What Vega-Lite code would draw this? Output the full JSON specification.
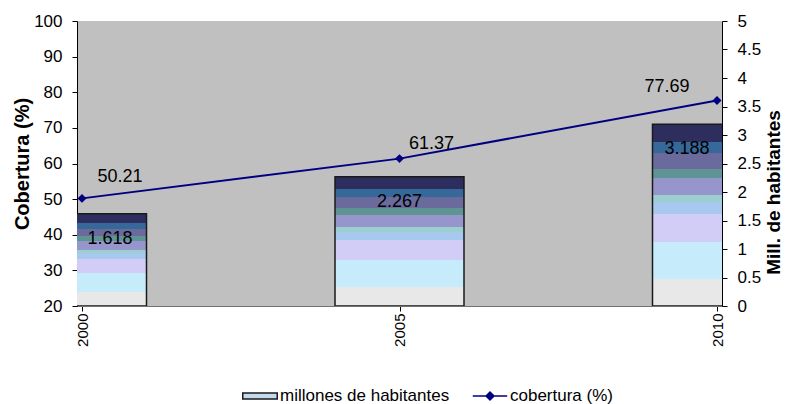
{
  "$schema": "https://vega.github.io/schema/vega-lite/v6.json",
  "width": 645,
  "height": 285,
  "autosize": "none",
  "padding": {"left": 77, "top": 21, "right": 65, "bottom": 98},
  "background": "white",
  "config": {
    "font": "Liberation Sans",
    "view": {"fill": "#c0c0c0", "stroke": null},
    "axis": {"grid": false, "labelColor": "black", "titleColor": "black", "domainColor": "black", "tickColor": "black", "labelFont": "Liberation Sans", "titleFont": "Liberation Sans"}
  },
  "data": {
    "values": [
      {"year": 2000, "millones": 1.618, "cobertura": 50.21},
      {"year": 2005, "millones": 2.267, "cobertura": 61.37},
      {"year": 2010, "millones": 3.188, "cobertura": 77.69}
    ]
  },
  "encoding": {
    "x": {
      "field": "year", "type": "quantitative",
      "scale": {"domain": [2000, 2010], "nice": false, "zero": false},
      "axis": {"values": [2000, 2005, 2010], "format": "d", "title": null, "labelAngle": 270, "labelAlign": "right", "labelBaseline": "middle", "labelFontSize": 15, "labelPadding": 2, "tickSize": 5, "domainColor": "#707070"}
    }
  },
  "layer": [
    {
      "encoding": {
        "y": {
          "field": "millones", "type": "quantitative",
          "scale": {"domain": [0, 5], "nice": false, "zero": true},
          "axis": {"orient": "right", "title": "Mill. de habitantes", "values": [0, 0.5, 1, 1.5, 2, 2.5, 3, 3.5, 4, 4.5, 5], "format": "~g", "labelFontSize": 17, "labelPadding": 10, "tickSize": 5, "titleFontSize": 19, "titleFontWeight": "bold", "titleAngle": 270, "titleBaseline": "top", "titlePadding": 4, "titleY": 171, "titleAlign": "center"}
        }
      },
      "layer": [
        {
          "mark": {
            "type": "bar", "width": 129, "clip": true, "strokeWidth": 1.5,
            "fill": {
              "gradient": "linear", "x1": 0, "y1": 1, "x2": 0, "y2": 0,
              "stops": [
                {"offset": 0, "color": "#e8e8e8"}, {"offset": 0.15, "color": "#e8e8e8"},
                {"offset": 0.15, "color": "#c6ebfb"}, {"offset": 0.354, "color": "#c6ebfb"},
                {"offset": 0.354, "color": "#d2cdf7"}, {"offset": 0.509, "color": "#d2cdf7"},
                {"offset": 0.509, "color": "#a7c9ef"}, {"offset": 0.574, "color": "#a7c9ef"},
                {"offset": 0.574, "color": "#9ccfd0"}, {"offset": 0.612, "color": "#9ccfd0"},
                {"offset": 0.612, "color": "#9696cc"}, {"offset": 0.703, "color": "#9696cc"},
                {"offset": 0.703, "color": "#5f9494"}, {"offset": 0.755, "color": "#5f9494"},
                {"offset": 0.755, "color": "#6a6a9c"}, {"offset": 0.84, "color": "#6a6a9c"},
                {"offset": 0.84, "color": "#36699a"}, {"offset": 0.905, "color": "#36699a"},
                {"offset": 0.905, "color": "#2e2e5e"}, {"offset": 1, "color": "#2e2e5e"}
              ]
            }
          },
          "encoding": {
            "stroke": {
              "datum": "millones de habitantes", "type": "nominal",
              "scale": {"domain": ["millones de habitantes", "cobertura (%)"], "range": ["#1a1a1a", "#000080"]},
              "legend": {
                "orient": "none", "legendX": 165, "legendY": 357, "direction": "horizontal", "title": null,
                "labelFontSize": 17, "labelColor": "black", "labelFont": "Liberation Sans", "labelOffset": 2, "labelLimit": 400,
                "symbolSize": 1190, "symbolStrokeWidth": 1.5, "columnPadding": 19, "padding": 0,
                "encoding": {
                  "symbols": {
                    "shape": {"value": {"expr": "datum.value === 'cobertura (%)' ? 'M-1,0H1M-0.23,0L0,-0.23L0.23,0L0,0.23Z' : 'M-1,-0.18H1V0.18H-1Z'"}},
                    "fill": {"value": {"expr": "datum.value === 'cobertura (%)' ? '#000080' : '#c4d8ee'"}},
                    "fillOpacity": {"value": 1},
                    "strokeWidth": {"value": 1.5}
                  }
                }
              }
            }
          }
        },
        {
          "mark": {"type": "text", "fontSize": 18, "baseline": "middle", "align": "center", "color": "black", "dy": 25, "dx": {"expr": "datum.year == 2000 ? 28 : (datum.year == 2010 ? -30 : 0)"}},
          "encoding": {
            "text": {"field": "millones", "type": "quantitative", "format": ".3f"}
          }
        }
      ]
    },
    {
      "encoding": {
        "y": {
          "field": "cobertura", "type": "quantitative",
          "scale": {"domain": [20, 100], "nice": false, "zero": false},
          "axis": {"orient": "left", "title": "Cobertura (%)", "values": [20, 30, 40, 50, 60, 70, 80, 90, 100], "labelFontSize": 17, "labelPadding": 10, "tickSize": 5, "titleFontSize": 20, "titleFontWeight": "bold", "titlePadding": 1}
        }
      },
      "layer": [
        {
          "mark": {"type": "line", "strokeWidth": 2},
          "encoding": {
            "stroke": {"datum": "cobertura (%)", "type": "nominal"}
          }
        },
        {
          "mark": {"type": "point", "shape": "diamond", "filled": true, "size": 80, "color": "#000080", "opacity": 1}
        },
        {
          "mark": {"type": "text", "fontSize": 18, "baseline": "middle", "align": "center", "color": "black",
            "dx": {"expr": "datum.year == 2000 ? 38 : (datum.year == 2005 ? 32 : -50)"},
            "dy": {"expr": "datum.year == 2000 ? -21 : (datum.year == 2005 ? -15 : -13)"}},
          "encoding": {
            "text": {"field": "cobertura", "type": "quantitative", "format": ".2f"}
          }
        }
      ]
    }
  ],
  "resolve": {"scale": {"y": "independent"}}
}
